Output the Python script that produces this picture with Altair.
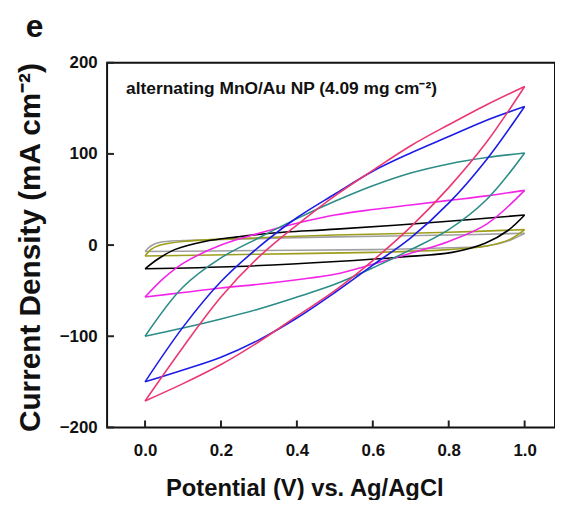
import altair as alt
import pandas as pd

series_names = ["gray", "olive", "black", "magenta", "teal", "blue", "crimson"]
series_colors = ["#a0a0a0", "#9e9e1e", "#000000", "#f224e8", "#2b8c88", "#1c1ce6", "#eb3872"]

# upper (anodic) and lower (cathodic) branches: potential (V) and current density (mA cm-2)
gray_up_x = [0, 0.015, 0.04, 0.1, 0.3, 0.5, 0.8, 1.0]
gray_up_y = [-7, -1, 3, 5, 7, 9, 11, 13]
gray_lo_x = [0, 0.3, 0.6, 0.8, 0.9, 0.96, 1.0]
gray_lo_y = [-7, -6, -5, -3, -1, 5, 13]

olive_up_x = [0, 0.015, 0.04, 0.1, 0.3, 0.5, 0.8, 1.0]
olive_up_y = [-12, -5, 0, 4, 8, 11, 14, 17]
olive_lo_x = [0, 0.3, 0.6, 0.8, 0.9, 0.96, 1.0]
olive_lo_y = [-12, -10, -8, -5, -1, 6, 17]

black_up_x = [0, 0.035, 0.078, 0.157, 0.243, 0.33, 0.504, 0.765, 1.0]
black_up_y = [-26, -15, -5, 4, 9, 13, 17.5, 25, 33]
black_lo_x = [0, 0.243, 0.504, 0.678, 0.809, 0.896, 0.956, 1.0]
black_lo_y = [-26, -23.5, -18, -13, -8, 2, 16, 33]

magenta_up_x = [0, 0.05, 0.1, 0.2, 0.3, 0.4, 0.5, 0.6, 0.7, 0.8, 0.9, 1.0]
magenta_up_y = [-57, -36, -20, 0, 13, 24, 33, 39, 44, 49, 54, 60]
magenta_lo_x = [0, 0.1, 0.2, 0.3, 0.4, 0.5, 0.6, 0.7, 0.8, 0.9, 1.0]
magenta_lo_y = [-57, -52, -47, -43, -38, -32, -21, -9, 4, 23, 60]

teal_up_x = [0, 0.1, 0.2, 0.3, 0.4, 0.5, 0.6, 0.7, 0.8, 0.9, 1.0]
teal_up_y = [-100, -46, -14, 8, 29, 48, 65, 79, 89, 96, 101]
teal_lo_x = [0, 0.1, 0.2, 0.3, 0.4, 0.5, 0.6, 0.7, 0.8, 0.9, 1.0]
teal_lo_y = [-100, -91, -81, -70, -57, -43, -25, -5, 17, 50, 101]

blue_up_x = [0, 0.1, 0.2, 0.3, 0.4, 0.5, 0.6, 0.7, 0.8, 0.9, 1.0]
blue_up_y = [-150, -90, -40, -2, 30, 56, 81, 101, 119, 137, 152]
blue_lo_x = [0, 0.1, 0.2, 0.3, 0.4, 0.5, 0.6, 0.7, 0.8, 0.9, 1.0]
blue_lo_y = [-150, -137, -123, -104, -80, -52, -22, 8, 46, 94, 152]

crimson_up_x = [0, 0.1, 0.2, 0.3, 0.4, 0.5, 0.6, 0.7, 0.8, 0.9, 1.0]
crimson_up_y = [-171, -112, -57, -13, 22, 54, 82, 109, 132, 154, 174]
crimson_lo_x = [0, 0.1, 0.2, 0.3, 0.4, 0.5, 0.6, 0.7, 0.8, 0.9, 1.0]
crimson_lo_y = [-171, -152, -131, -106, -78, -50, -17, 20, 63, 113, 174]

x_ticks = [0.0, 0.2, 0.4, 0.6, 0.8, 1.0]
y_ticks = [-200, -100, 0, 100, 200]

note_x = [-0.05]
note_y = [171]
note_text = ["alternating MnO/Au NP (4.09 mg cm\u207b\u00b2)"]

branches = {
    "gray": (gray_up_x, gray_up_y, gray_lo_x, gray_lo_y),
    "olive": (olive_up_x, olive_up_y, olive_lo_x, olive_lo_y),
    "black": (black_up_x, black_up_y, black_lo_x, black_lo_y),
    "magenta": (magenta_up_x, magenta_up_y, magenta_lo_x, magenta_lo_y),
    "teal": (teal_up_x, teal_up_y, teal_lo_x, teal_lo_y),
    "blue": (blue_up_x, blue_up_y, blue_lo_x, blue_lo_y),
    "crimson": (crimson_up_x, crimson_up_y, crimson_lo_x, crimson_lo_y),
}

rows = []
for s in series_names:
    ux, uy, lx, ly = branches[s]
    for i, (a, b) in enumerate(zip(ux, uy)):
        rows.append({"series": s, "key": s + "_up", "i": i, "v": a, "j": b})
    for i, (a, b) in enumerate(zip(lx, ly)):
        rows.append({"series": s, "key": s + "_lo", "i": i, "v": a, "j": b})
df = pd.DataFrame(rows)

FONT = "Liberation Sans"
W, H = 452, 368

xscale = alt.Scale(domain=[-0.1, 1.08], nice=False, zero=False)
yscale = alt.Scale(domain=[-200, 200], nice=False, zero=False)

lines = alt.Chart(df).mark_line(interpolate="catmull-rom", strokeWidth=1.6).encode(
    x=alt.X("v:Q", scale=xscale, axis=alt.Axis(
        values=x_ticks, format=".1f", grid=False, domain=False, ticks=False, tickSize=0,
        labelFont=FONT, labelFontSize=17, labelFontWeight="bold", labelColor="#111",
        labelPadding=15,
        title="Potential (V) vs. Ag/AgCl", titleFont=FONT, titleFontSize=24,
        titleFontWeight="bold", titleColor="#111", titleX=199, titleY=69,
        titleBaseline="alphabetic", titleAnchor="middle")),
    y=alt.Y("j:Q", scale=yscale, axis=alt.Axis(
        values=y_ticks, grid=False, domain=False, ticks=False, tickSize=0,
        labelFont=FONT, labelFontSize=17, labelFontWeight="bold", labelColor="#111",
        labelPadding=10,
        title="Current Density (mA cm\u207b\u00b2)", titleFont=FONT, titleFontSize=30,
        titleFontWeight="bold", titleColor="#111", titleX=-68, titleY=186,
        titleAngle=-90, titleBaseline="alphabetic", titleAlign="center")),
    color=alt.Color("series:N", scale=alt.Scale(domain=series_names, range=series_colors), legend=None),
    detail="key:N",
    order="i:Q",
)

xt = alt.Chart(pd.DataFrame({"t": x_ticks})).mark_rule(color="#222", strokeWidth=2).encode(
    x=alt.X("t:Q", scale=xscale), y=alt.value(H), y2=alt.value(H - 7))
yt = alt.Chart(pd.DataFrame({"t": y_ticks})).mark_rule(color="#222", strokeWidth=2).encode(
    y=alt.Y("t:Q", scale=yscale), x=alt.value(0), x2=alt.value(7))

note = alt.Chart(pd.DataFrame({"x": note_x, "y": note_y, "label": note_text})).mark_text(
    align="left", baseline="middle", font=FONT, fontSize=17.5, fontWeight="bold", color="#111"
).encode(x=alt.X("x:Q", scale=xscale), y=alt.Y("y:Q", scale=yscale), text="label:N")

chart = alt.layer(lines, xt, yt, note).properties(
    width=W, height=H,
    padding={"left": 100, "top": 53, "right": 0, "bottom": 71},
    autosize=alt.AutoSizeParams(type="none"),
    title=alt.TitleParams(text="e", anchor="start", frame="group", fontSize=32, fontWeight="bold",
                          font=FONT, color="#111", dx=-82, offset=10),
).configure_view(stroke="#111", strokeWidth=2)

chart.save("out.html", embed_options={"renderer": "svg", "actions": False})
